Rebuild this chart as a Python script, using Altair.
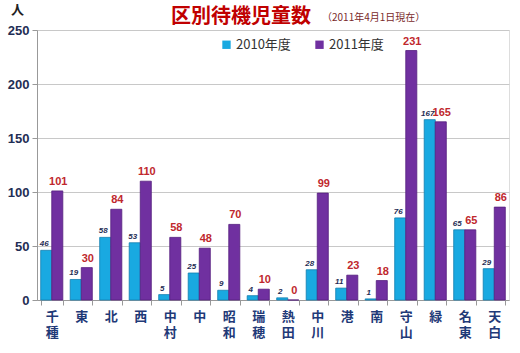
import altair as alt
import pandas as pd

districts = ["千種", "東", "北", "西", "中村", "中", "昭和", "瑞穂", "熱田", "中川", "港", "南", "守山", "緑", "名東", "天白"]
v2010 = [46, 19, 58, 53, 5, 25, 9, 4, 2, 28, 11, 1, 76, 167, 65, 29]
v2011 = [101, 30, 84, 110, 58, 48, 70, 10, 0, 99, 23, 18, 231, 165, 65, 86]
years = ["2010年度", "2011年度"]
y_ticks = [0, 50, 100, 150, 200, 250]
title_text = "区別待機児童数"
subtitle_text = "（2011年4月1日現在）"

rows = []
for d, a, b in zip(districts, v2010, v2011):
    rows.append({"区": d, "年度": years[0], "人数": a})
    rows.append({"区": d, "年度": years[1], "人数": b})
df = pd.DataFrame(rows)

JP = "Noto Sans CJK JP"
NAVY = "#1F2E55"
BLUE_LBL = "#1F3A78"

x_enc = alt.X("区:N", sort=districts,
              scale=alt.Scale(paddingInner=0.25, paddingOuter=0.125),
              axis=alt.Axis(title=None, labelAngle=0, labelExpr="split(datum.label, '')",
                            labelFont=JP, labelFontSize=13, labelFontWeight="bold",
                            labelColor=BLUE_LBL, labelLineHeight=16.5, labelPadding=5,
                            tickBand="extent", tickSize=5, tickColor="#999999",
                            domainColor="#999999", labelBaseline="top"))
y_enc = alt.Y("人数:Q", scale=alt.Scale(domain=[0, 250], nice=False),
              axis=alt.Axis(values=y_ticks, title="人", titleAngle=0, titleFont=JP,
                            titleFontSize=13, titleFontWeight="bold", titleColor="#222222",
                            titleX=-20, titleY=-14, titleAlign="center",
                            labelFont="Liberation Sans", labelFontSize=13, labelFontWeight="bold",
                            labelColor=NAVY, labelPadding=3, tickSize=5, tickColor="#999999",
                            domainColor="#999999", gridColor="#C8C8C8", gridWidth=1))
xo = alt.XOffset("年度:N", sort=years)

base = alt.Chart(df)

bars = base.mark_bar(strokeWidth=0.8).encode(
    x=x_enc, y=y_enc, xOffset=xo,
    color=alt.Color("年度:N", sort=years,
                    scale=alt.Scale(domain=years, range=["#19A9E1", "#7030A0"]),
                    legend=alt.Legend(title=None, orient="none", direction="horizontal",
                                      legendX=183, legendY=8, symbolType="square",
                                      symbolSize=70, symbolStrokeWidth=0, labelFont=JP,
                                      labelFontSize=13, labelColor="#333333",
                                      columnPadding=22, labelOffset=3)),
    stroke=alt.Color("年度:N", sort=years,
                     scale=alt.Scale(domain=years, range=["#137FB0", "#55207F"]),
                     legend=None),
)

t2010 = base.transform_filter(alt.datum["年度"] == years[0]).mark_text(
    dy=-6, dx=-2, font="Liberation Sans", fontSize=8, fontStyle="italic", fontWeight="bold",
    color=NAVY).encode(x=alt.X("区:N", sort=districts), y="人数:Q", xOffset=xo, text="人数:Q")

t2011 = base.transform_filter(alt.datum["年度"] == years[1]).mark_text(
    dy=-9, dx=1, font="Liberation Sans", fontSize=11, fontWeight="bold",
    color="#C0282D").encode(x=alt.X("区:N", sort=districts), y="人数:Q", xOffset=xo, text="人数:Q")

title = alt.Chart(pd.DataFrame({"t": [title_text]})).mark_text(
    font=JP, fontSize=20, fontWeight="bold", color="#C00000", align="left", baseline="middle"
).encode(x=alt.value(134), y=alt.value(-13), text="t:N")

sub = alt.Chart(pd.DataFrame({"t": [subtitle_text]})).mark_text(
    font=JP, fontSize=10, color="#7A2A2A", align="left", baseline="middle"
).encode(x=alt.value(285), y=alt.value(-12), text="t:N")

chart = alt.layer(bars, t2010, t2011, title, sub).properties(
    width=472, height=270,
    autosize=alt.AutoSizeParams(type="none"),
    padding={"left": 37, "top": 30, "right": 11, "bottom": 53},
).configure_view(stroke="#999999", strokeWidth=1).configure(background="white")

chart.save("out.html", embed_options={"renderer": "svg", "actions": False})
